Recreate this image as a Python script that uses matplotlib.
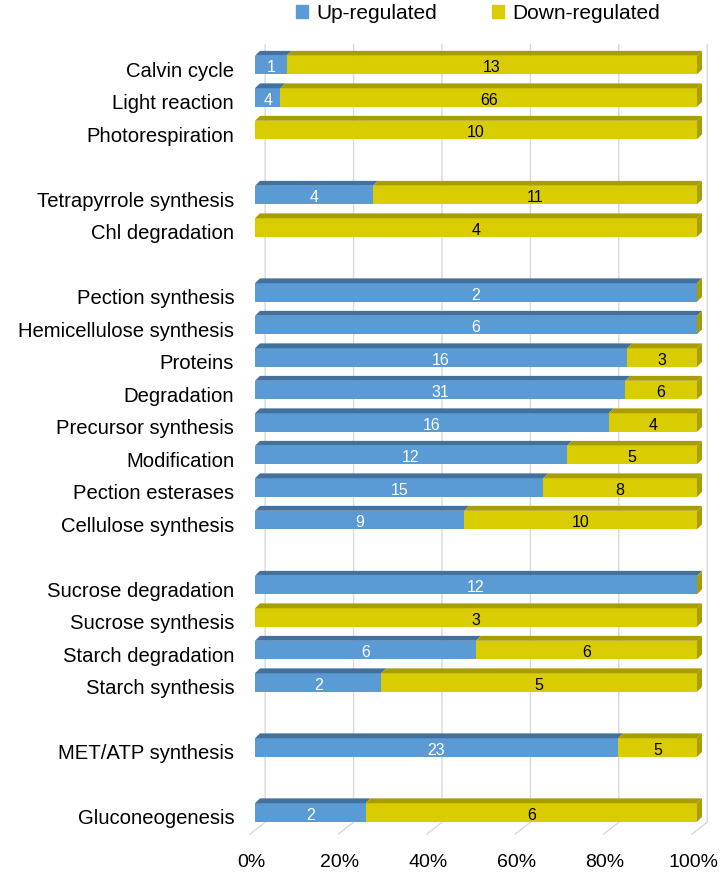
import matplotlib
matplotlib.use("Agg")
import matplotlib.pyplot as plt
from matplotlib.patches import Polygon, Patch
from matplotlib.transforms import ScaledTranslation
import numpy as np

plt.rcParams['font.family'] = ['Liberation Sans', 'DejaVu Sans']

# categories from top to bottom, "" = empty spacer row
categories = ["Calvin cycle", "Light reaction", "Photorespiration", "",
              "Tetrapyrrole synthesis", "Chl degradation", "",
              "Pection synthesis", "Hemicellulose synthesis", "Proteins",
              "Degradation", "Precursor synthesis", "Modification",
              "Pection esterases", "Cellulose synthesis", "",
              "Sucrose degradation", "Sucrose synthesis", "Starch degradation",
              "Starch synthesis", "", "MET/ATP synthesis", "", "Gluconeogenesis"]
up_counts = [1, 4, 0, 0, 4, 0, 0, 2, 6, 16, 31, 16, 12, 15, 9, 0,
             12, 0, 6, 2, 0, 23, 0, 2]
down_counts = [13, 66, 10, 0, 11, 4, 0, 0, 0, 3, 6, 4, 5, 8, 10, 0,
               0, 3, 6, 5, 0, 5, 0, 6]
xticks = [0, 20, 40, 60, 80, 100]
xtick_labels = ["0%", "20%", "40%", "60%", "80%", "100%"]

blue = "#5B9BD5"
blue_top = "#41719C"
yellow = "#D9CC00"
yellow_top = "#A89E00"
grid_col = "#D9D9D9"

fig = plt.figure(figsize=(7.21, 8.74), dpi=100)
ax = fig.add_axes([255 / 721, 0.0406, 442 / 721, 0.9222])
ax.set_xlim(0, 100)
ax.set_ylim(23.8, -1.0)

# 3D depth in data units
dx, dy = 1.13, 0.15
gdx, gdy = 2.3, 0.36
h = 0.57

# back wall gridlines with slanted floor part
for xt in xticks:
    ax.plot([xt + gdx, xt + gdx, xt - 1.1], [-0.62, 23.3, 23.66],
            color=grid_col, lw=1, zorder=0, clip_on=False)

up = np.array(up_counts, float)
down = np.array(down_counts, float)
tot = up + down
ypos = np.arange(len(categories))
for i in ypos:
    if tot[i] == 0:
        continue
    pu = up[i] / tot[i] * 100
    pd = down[i] / tot[i] * 100
    segs = [(0, pu, blue, blue_top, up_counts[i], "white"),
            (pu, pd, yellow, yellow_top, down_counts[i], "black")]
    for left, w, fc, tc, n, tcol in segs:
        if w <= 0:
            continue
        ax.barh(i, w, left=left, height=h, color=fc, zorder=2)
        top = i - h / 2
        ax.add_patch(Polygon([(left, top), (left + w, top),
                              (left + w + dx, top - dy), (left + dx, top - dy)],
                             closed=True, fc=tc, ec="none", zorder=2, clip_on=False))
        ax.text(left + w / 2, i + 0.08, str(n), ha="center", va="center",
                fontsize=11.5, color=tcol, zorder=4)
    # right side face
    ax.add_patch(Polygon([(100, i - h / 2), (100, i + h / 2),
                          (100 + dx, i + h / 2 - dy), (100 + dx, i - h / 2 - dy)],
                         closed=True, fc=yellow_top, ec="none", zorder=2, clip_on=False))

ax.set_yticks(ypos)
ax.set_yticklabels(categories, fontsize=14.6)
ax.set_xticks(xticks)
ax.set_xticklabels(xtick_labels, fontsize=14)
ax.tick_params(axis="y", length=0, pad=15)
ax.tick_params(axis="x", length=0, pad=11)
for lab in ax.get_yticklabels():
    lab.set_transform(lab.get_transform() + ScaledTranslation(0, -4 / 100, fig.dpi_scale_trans))
for lab in ax.get_xticklabels():
    lab.set_transform(lab.get_transform() + ScaledTranslation(-4 / 100, 0, fig.dpi_scale_trans))
for sp in ax.spines.values():
    sp.set_visible(False)

handles = [Patch(color=blue, label="Up-regulated"),
           Patch(color=yellow, label="Down-regulated")]
fig.legend(handles=handles, loc="center", bbox_to_anchor=(478 / 721, 0.985),
           ncol=2, frameon=False, fontsize=15, handlelength=0.6, handleheight=0.6,
           handletextpad=0.4, columnspacing=2.6, borderpad=0)

fig.savefig("out.png", dpi=100)
